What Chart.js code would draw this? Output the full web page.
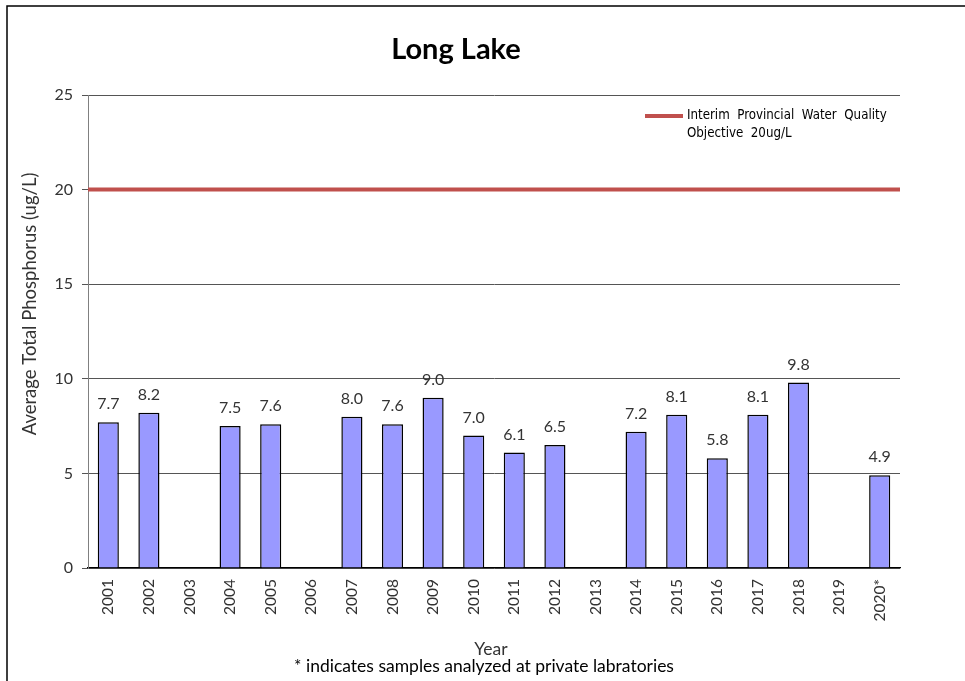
<!DOCTYPE html>
<html>
<head>
<meta charset="utf-8">
<script src="https://cdn.jsdelivr.net/npm/chart.js@4/dist/chart.umd.min.js"></script>
<style>
  html, body { margin: 0; padding: 0; background: #ffffff; }
  #wrap { width: 965px; height: 681px; position: relative; }
</style>
</head>
<body>
<div id="wrap"><canvas id="c" width="965" height="681"></canvas></div>
<script>
const categories = ['2001','2002','2003','2004','2005','2006','2007','2008','2009','2010',
                    '2011','2012','2013','2014','2015','2016','2017','2018','2019','2020*'];
const phosphorus = [7.7, 8.2, null, 7.5, 7.6, null, 8.0, 7.6, 9.0, 7.0,
                    6.1, 6.5, null, 7.2, 8.1, 5.8, 8.1, 9.8, null, 4.9];
const objectiveValue = 20;
const yMin = 0;
const yMax = 25;
const yStep = 5;
const chartTitle = 'Long Lake';
const yAxisTitle = 'Average Total Phosphorus (ug/L)';
const xAxisTitle = 'Year';
const footnote = '* indicates samples analyzed at private labratories';
const legendLines = ['Interim  Provincial  Water  Quality', 'Objective  20ug/L'];

const BASE_FONT = 'Lato, "Open Sans", "Noto Sans", sans-serif';
const NARROW_FONT = '"Liberation Sans Narrow", "DejaVu Sans Condensed", "Liberation Sans", sans-serif';

const decorPlugin = {
  id: 'decor',
  afterDatasetsDraw(chart) {
    const ctx = chart.ctx;
    const area = chart.chartArea;
    const y = chart.scales.y;
    const yp = y.getPixelForValue(objectiveValue);
    ctx.save();
    ctx.strokeStyle = '#C0504D';
    ctx.lineWidth = 4;
    ctx.beginPath();
    ctx.moveTo(area.left, yp);
    ctx.lineTo(area.right, yp);
    ctx.stroke();
    const meta = chart.getDatasetMeta(0);
    ctx.fillStyle = '#333333';
    ctx.font = '16px ' + BASE_FONT;
    ctx.textAlign = 'center';
    ctx.textBaseline = 'alphabetic';
    meta.data.forEach((bar, i) => {
      const v = phosphorus[i];
      if (v === null || v === undefined) return;
      ctx.fillText(v.toFixed(1), bar.x, bar.y - 13);
    });
    ctx.restore();
  },
  afterDraw(chart) {
    const ctx = chart.ctx;
    ctx.save();
    ctx.strokeStyle = '#000000';
    ctx.lineWidth = 1.5;
    ctx.beginPath();
    ctx.moveTo(7, 700);
    ctx.lineTo(7, 6);
    ctx.lineTo(965, 6);
    ctx.stroke();
    ctx.fillStyle = '#000000';
    ctx.font = 'bold 29px ' + BASE_FONT;
    ctx.textAlign = 'center';
    ctx.textBaseline = 'middle';
    ctx.fillText(chartTitle, 456, 50);
    ctx.save();
    ctx.translate(30, 304);
    ctx.rotate(-Math.PI / 2);
    ctx.font = '18.5px ' + BASE_FONT;
    ctx.fillStyle = '#333333';
    ctx.textAlign = 'center';
    ctx.textBaseline = 'middle';
    ctx.fillText(yAxisTitle, 0, 0);
    ctx.restore();
    ctx.font = '17.5px ' + BASE_FONT;
    ctx.fillStyle = '#333333';
    ctx.textAlign = 'center';
    ctx.textBaseline = 'middle';
    ctx.fillText(xAxisTitle, 491, 649);
    ctx.fillStyle = '#000000';
    ctx.fillText(footnote, 484, 666);
    ctx.strokeStyle = '#C0504D';
    ctx.lineWidth = 4;
    ctx.beginPath();
    ctx.moveTo(645, 116);
    ctx.lineTo(683, 116);
    ctx.stroke();
    ctx.fillStyle = '#000000';
    ctx.font = '13.2px ' + NARROW_FONT;
    ctx.textAlign = 'left';
    ctx.textBaseline = 'middle';
    ctx.fillText(legendLines[0], 687, 116);
    ctx.fillText(legendLines[1], 687, 134);
    ctx.restore();
  }
};

new Chart(document.getElementById('c'), {
  type: 'bar',
  data: {
    labels: categories,
    datasets: [{
      label: 'Average Total Phosphorus',
      data: phosphorus,
      backgroundColor: '#9999FF',
      borderColor: '#000000',
      borderWidth: 1.5,
      barPercentage: 0.52,
      categoryPercentage: 1.0
    }]
  },
  options: {
    responsive: false,
    animation: false,
    devicePixelRatio: 1,
    layout: { padding: { left: 0, top: 95, right: 65, bottom: 0 } },
    plugins: {
      legend: { display: false },
      title: { display: false },
      tooltip: { enabled: false }
    },
    scales: {
      x: {
        afterFit(scale) { scale.height = 113; },
        grid: { display: false, drawTicks: false },
        border: { display: true, color: '#000000', width: 1.2 },
        ticks: {
          autoSkip: false,
          minRotation: 90,
          maxRotation: 90,
          padding: 11,
          color: '#333333',
          font: { family: BASE_FONT, size: 15.5 }
        }
      },
      y: {
        min: yMin,
        max: yMax,
        afterFit(scale) { scale.width = 88; },
        grid: { color: '#555555', lineWidth: 1, drawTicks: true, tickLength: 6 },
        border: { display: true, color: '#808080', width: 1 },
        ticks: {
          stepSize: yStep,
          padding: 9,
          color: '#333333',
          font: { family: BASE_FONT, size: 16 }
        }
      }
    }
  },
  plugins: [decorPlugin]
});
</script>
</body>
</html>
